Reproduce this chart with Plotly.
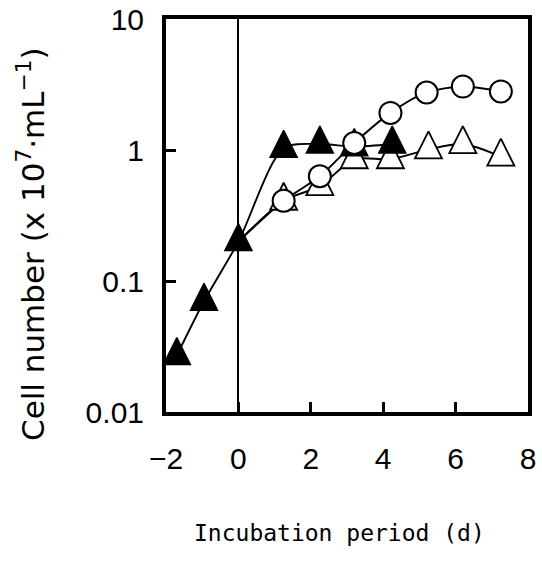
import plotly.graph_objects as go

# ---- data ----
filled_tri_x = [-1.7, -0.95, 0, 1.25, 2.25, 3.2, 4.25]
filled_tri_y = [0.027, 0.07, 0.2, 1.03, 1.11, 1.06, 1.11]

circle_x = [0, 1.25, 2.25, 3.2, 4.2, 5.2, 6.2, 7.25]
circle_y = [0.2, 0.41, 0.63, 1.13, 1.92, 2.75, 3.05, 2.8]

open_tri_x = [0, 1.25, 2.25, 3.2, 4.2, 5.25, 6.2, 7.25]
open_tri_y = [0.2, 0.41, 0.53, 0.85, 0.85, 1.01, 1.11, 0.89]

x_ticks = [-2, 0, 2, 4, 6, 8]
x_ticktext = ["\u22122", "0", "2", "4", "6", "8"]
y_ticks = [0.01, 0.1, 1, 10]
y_ticktext = ["0.01", "0.1", "1", "10"]

# ---- layout geometry ----
W, H = 542, 562
ML, MR, MT, MB = 166, 14, 19, 150
PW, PH = W - ML - MR, H - MT - MB

def px_x(p):
    return (p - ML) / PW

def px_y(p):
    return (H - MB - p) / PH

TRI = 27
tri_marker_common = dict(symbol="arrow-down", angle=180, size=TRI, standoff=TRI * 2 / 3)
LINE_W = 1.9

fig = go.Figure()

# lines first (beneath all markers)
for xs, ys in [(filled_tri_x, filled_tri_y), (open_tri_x, open_tri_y), (circle_x, circle_y)]:
    fig.add_trace(go.Scatter(x=xs, y=ys, mode="lines",
                             line=dict(color="black", width=LINE_W, shape="spline", smoothing=0.8),
                             hoverinfo="skip", showlegend=False))

# the shared starting point (day 0) of the two open series lies hidden under the filled triangle
fig.add_trace(go.Scatter(x=open_tri_x[1:], y=open_tri_y[1:], mode="markers",
                         marker=dict(color="white", line=dict(color="black", width=1.8), **tri_marker_common),
                         showlegend=False))
fig.add_trace(go.Scatter(x=filled_tri_x, y=filled_tri_y, mode="markers",
                         marker=dict(color="black", line=dict(color="black", width=1.5), **tri_marker_common),
                         showlegend=False))
fig.add_trace(go.Scatter(x=circle_x[1:], y=circle_y[1:], mode="markers",
                         marker=dict(symbol="circle", size=22, color="white",
                                     line=dict(color="black", width=2)),
                         showlegend=False))

TICKFONT = dict(family="Liberation Sans, Arial, sans-serif", size=30, color="black")

fig.update_xaxes(range=[-2, 8], tickvals=x_ticks, ticktext=x_ticktext,
                 ticks="inside", ticklen=10, tickwidth=3, tickcolor="black",
                 showline=True, linecolor="black", linewidth=4, mirror=True,
                 showgrid=False, zeroline=True, zerolinecolor="black", zerolinewidth=1.6,
                 tickfont=TICKFONT, ticklabelstandoff=17)
fig.update_yaxes(type="log", range=[-2, 1], tickvals=y_ticks, ticktext=y_ticktext,
                 ticks="inside", ticklen=10, tickwidth=3, tickcolor="black",
                 showline=True, linecolor="black", linewidth=4, mirror=True,
                 showgrid=False, zeroline=False,
                 tickfont=TICKFONT, ticklabelstandoff=12)

fig.update_layout(
    width=W, height=H,
    margin=dict(l=ML, r=MR, t=MT, b=MB, autoexpand=False),
    paper_bgcolor="white", plot_bgcolor="white",
    showlegend=False,
    annotations=[
        dict(text="Cell number (x 10<sup>7</sup>\u00b7mL<sup>\u22121</sup>)",
             xref="paper", yref="paper", x=px_x(31), y=px_y(244),
             xanchor="center", yanchor="middle", textangle=-90, showarrow=False,
             font=dict(family="DejaVu Sans, sans-serif", size=31, color="black")),
        dict(text="Incubation period (d)",
             xref="paper", yref="paper", x=px_x(339), y=px_y(533),
             xanchor="center", yanchor="middle", showarrow=False,
             font=dict(family="DejaVu Sans Mono, monospace", size=23, color="black")),
    ],
)

fig.write_html("out.html")
